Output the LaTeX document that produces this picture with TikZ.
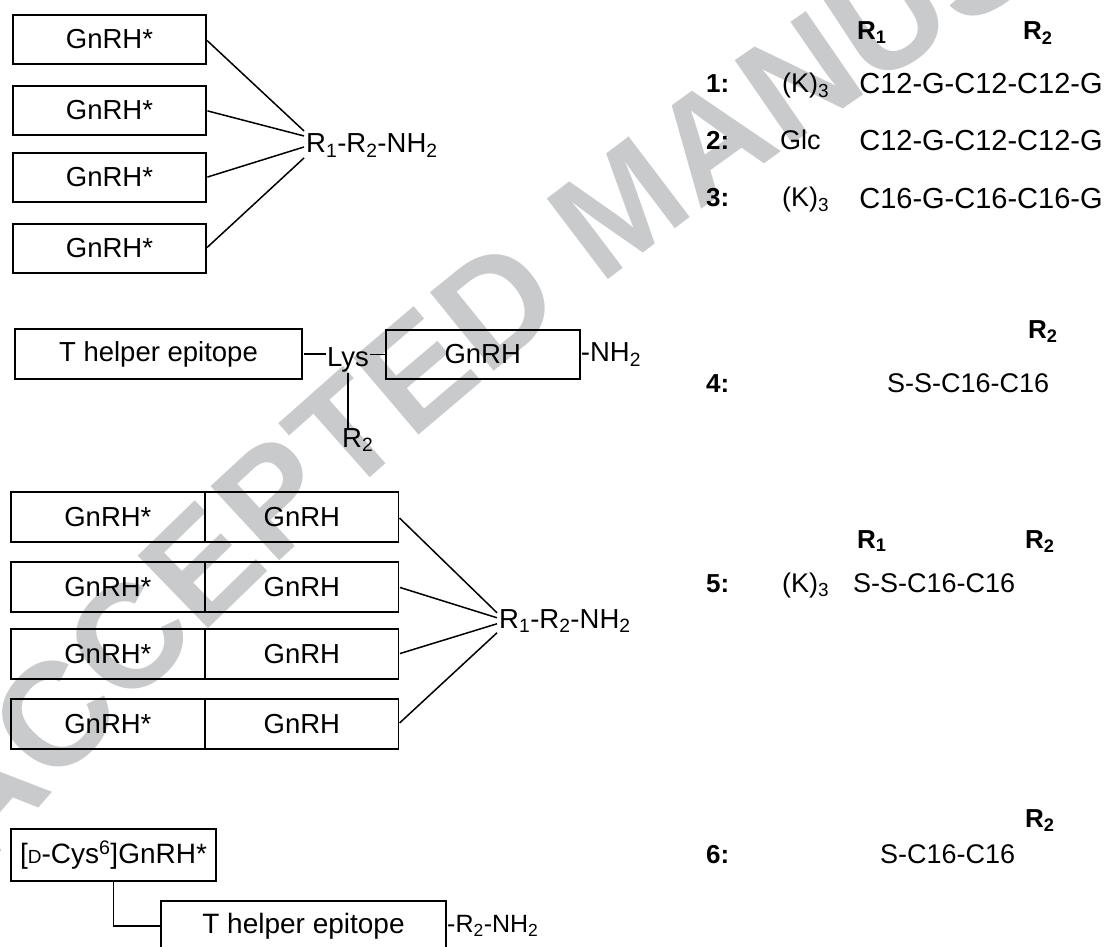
\documentclass[tikz,border=0pt]{standalone}
\usepackage{fontspec}
\setmainfont{Liberation Sans}
\usetikzlibrary{decorations.text}

\definecolor{wmgray}{RGB}{201,202,203}
\newcommand{\wmfont}{\fontsize{147}{152}\selectfont\bfseries}

\tikzset{
  pepbox/.style={draw, line width=1.8pt, inner sep=0pt, outer sep=0pt, minimum height=50pt},
  link/.style={line width=1.5pt, shorten <=1.5pt},
  txt/.style={font=\fontsize{27.5}{32}\selectfont},
  txtxl/.style={font=\fontsize{28}{32}\selectfont},
  txtsm/.style={font=\fontsize{25}{30}\selectfont},
  coltxt/.style={font=\fontsize{27}{31}\selectfont, anchor=base west, inner sep=0pt},
  colwide/.style={font=\fontsize{29}{33}\selectfont, anchor=base, inner sep=0pt},
  colhead/.style={font=\fontsize{26}{30}\selectfont\bfseries, anchor=base west, inner sep=0pt},
}

\begin{document}
\begin{tikzpicture}[x=1pt, y=-1pt]
    \useasboundingbox (0,0) rectangle (1112,947);
    \clip (0,0) rectangle (1112,947);

    % watermark
    \path[decorate, decoration={text along path, text color=wmgray,
        text={|\wmfont|ACCEPTED MANUSCRIPT}}]
        (-14,870) .. controls (330,460) and (870,30) .. (1500,-270);

    % four GnRH* arms on one core
    \foreach \i/\y in {1/39.5, 2/110.5, 3/177.5, 4/248.5}
        \node[pepbox, txt, minimum width=193pt, minimum height=49pt] (arm\i) at (109.5,\y) {GnRH*};
    \node[txt, anchor=base west, inner sep=2pt] (core1) at (304,153) {R\textsubscript{1}-R\textsubscript{2}-NH\textsubscript{2}};
    \foreach \i/\s in {1/15, 2/10, 3/-1, 4/-12}
        \draw[link] (arm\i.east) -- ([yshift=\s pt]core1.west);

    % T helper - Lys - GnRH
    \node[pepbox, txt, minimum width=287pt] (thelp1) at (158.5,354) {T helper epitope};
    \node[txt, anchor=base west, inner sep=1pt] (lys) at (326,366) {Lys};
    \node[pepbox, txt, minimum width=194pt, minimum height=49pt] (gnrh1) at (482.7,354.5) {GnRH};
    \node[txt, anchor=west, inner sep=1pt] (amide1) at (gnrh1.east) {-NH\textsubscript{2}};
    \node[txt, anchor=base west, inner sep=0pt] (lysR) at (342,447) {R\textsubscript{2}};
    \draw[link] (thelp1.east) -- (thelp1.east -| lys.west);
    \draw[link, shorten <=0pt] (gnrh1.west -| lys.east) -- (gnrh1.west);
    \draw[link, shorten <=0pt] (lys.south) -- (lys.south |- lysR.north);

    % dimer arms
    \foreach \i/\y in {1/517, 2/587, 3/654, 4/724} {
        \node[pepbox, txt, minimum width=194.6pt] (dimA\i) at (107.9,\y) {GnRH*};
        \node[pepbox, txt, minimum width=193.3pt, anchor=west] (dimB\i) at (dimA\i.east) {GnRH};
    }
    \node[txt, anchor=base west, inner sep=2pt] (core2) at (497,628) {R\textsubscript{1}-R\textsubscript{2}-NH\textsubscript{2}};
    \foreach \i/\s in {1/8.2, 2/3.2, 3/-2.8, 4/-11.8}
        \draw[link] (dimB\i.east) -- ([yshift=\s pt]core2.west);

    % D-Cys6 conjugate
    \node[pepbox, txtxl, minimum width=205pt, minimum height=52pt] (dcys) at (113.5,855) {[{\fontsize{19}{21}\selectfont D}-Cys\textsuperscript{6}]GnRH*};
    \node[pepbox, txtxl, minimum width=285pt] (thelp2) at (303.5,926) {T helper epitope};
    \node[txtsm, anchor=west, inner sep=1pt] (amide2) at (thelp2.east) {-R\textsubscript{2}-NH\textsubscript{2}};
    \draw[link, shorten <=0pt] (dcys.south) |- (thelp2.west);

    % table of R groups
    \node[colhead] (hdA1) at (857,40) {R\textsubscript{1}};
    \node[colhead] (hdA2) at (1023,40) {R\textsubscript{2}};
    \node[colhead] (no1) at (706,93) {1:};
    \node[coltxt] (rA1) at (782,93) {(K)\textsubscript{3}};
    \node[colwide] (rB1) at (981,94) {C12-G-C12-C12-G};
    \node[colhead] (no2) at (706,150) {2:};
    \node[coltxt] (rA2) at (780,150) {Glc};
    \node[colwide] (rB2) at (981,151) {C12-G-C12-C12-G};
    \node[colhead] (no3) at (706,207) {3:};
    \node[coltxt] (rA3) at (782,207) {(K)\textsubscript{3}};
    \node[colwide] (rB3) at (981,208) {C16-G-C16-C16-G};

    \node[colhead] (hdB2) at (1028,338) {R\textsubscript{2}};
    \node[colhead] (no4) at (706,392) {4:};
    \node[coltxt] (rB4) at (887,392) {S-S-C16-C16};

    \node[colhead] (hdC1) at (857,548) {R\textsubscript{1}};
    \node[colhead] (hdC2) at (1025,548) {R\textsubscript{2}};
    \node[colhead] (no5) at (706,592) {5:};
    \node[coltxt] (rA5) at (782,592) {(K)\textsubscript{3}};
    \node[coltxt] (rB5) at (853,592) {S-S-C16-C16};

    \node[colhead] (hdD2) at (1025,827) {R\textsubscript{2}};
    \node[colhead] (no6) at (706,863) {6:};
    \node[coltxt] (rB6) at (880,863) {S-C16-C16};
\end{tikzpicture}
\end{document}
